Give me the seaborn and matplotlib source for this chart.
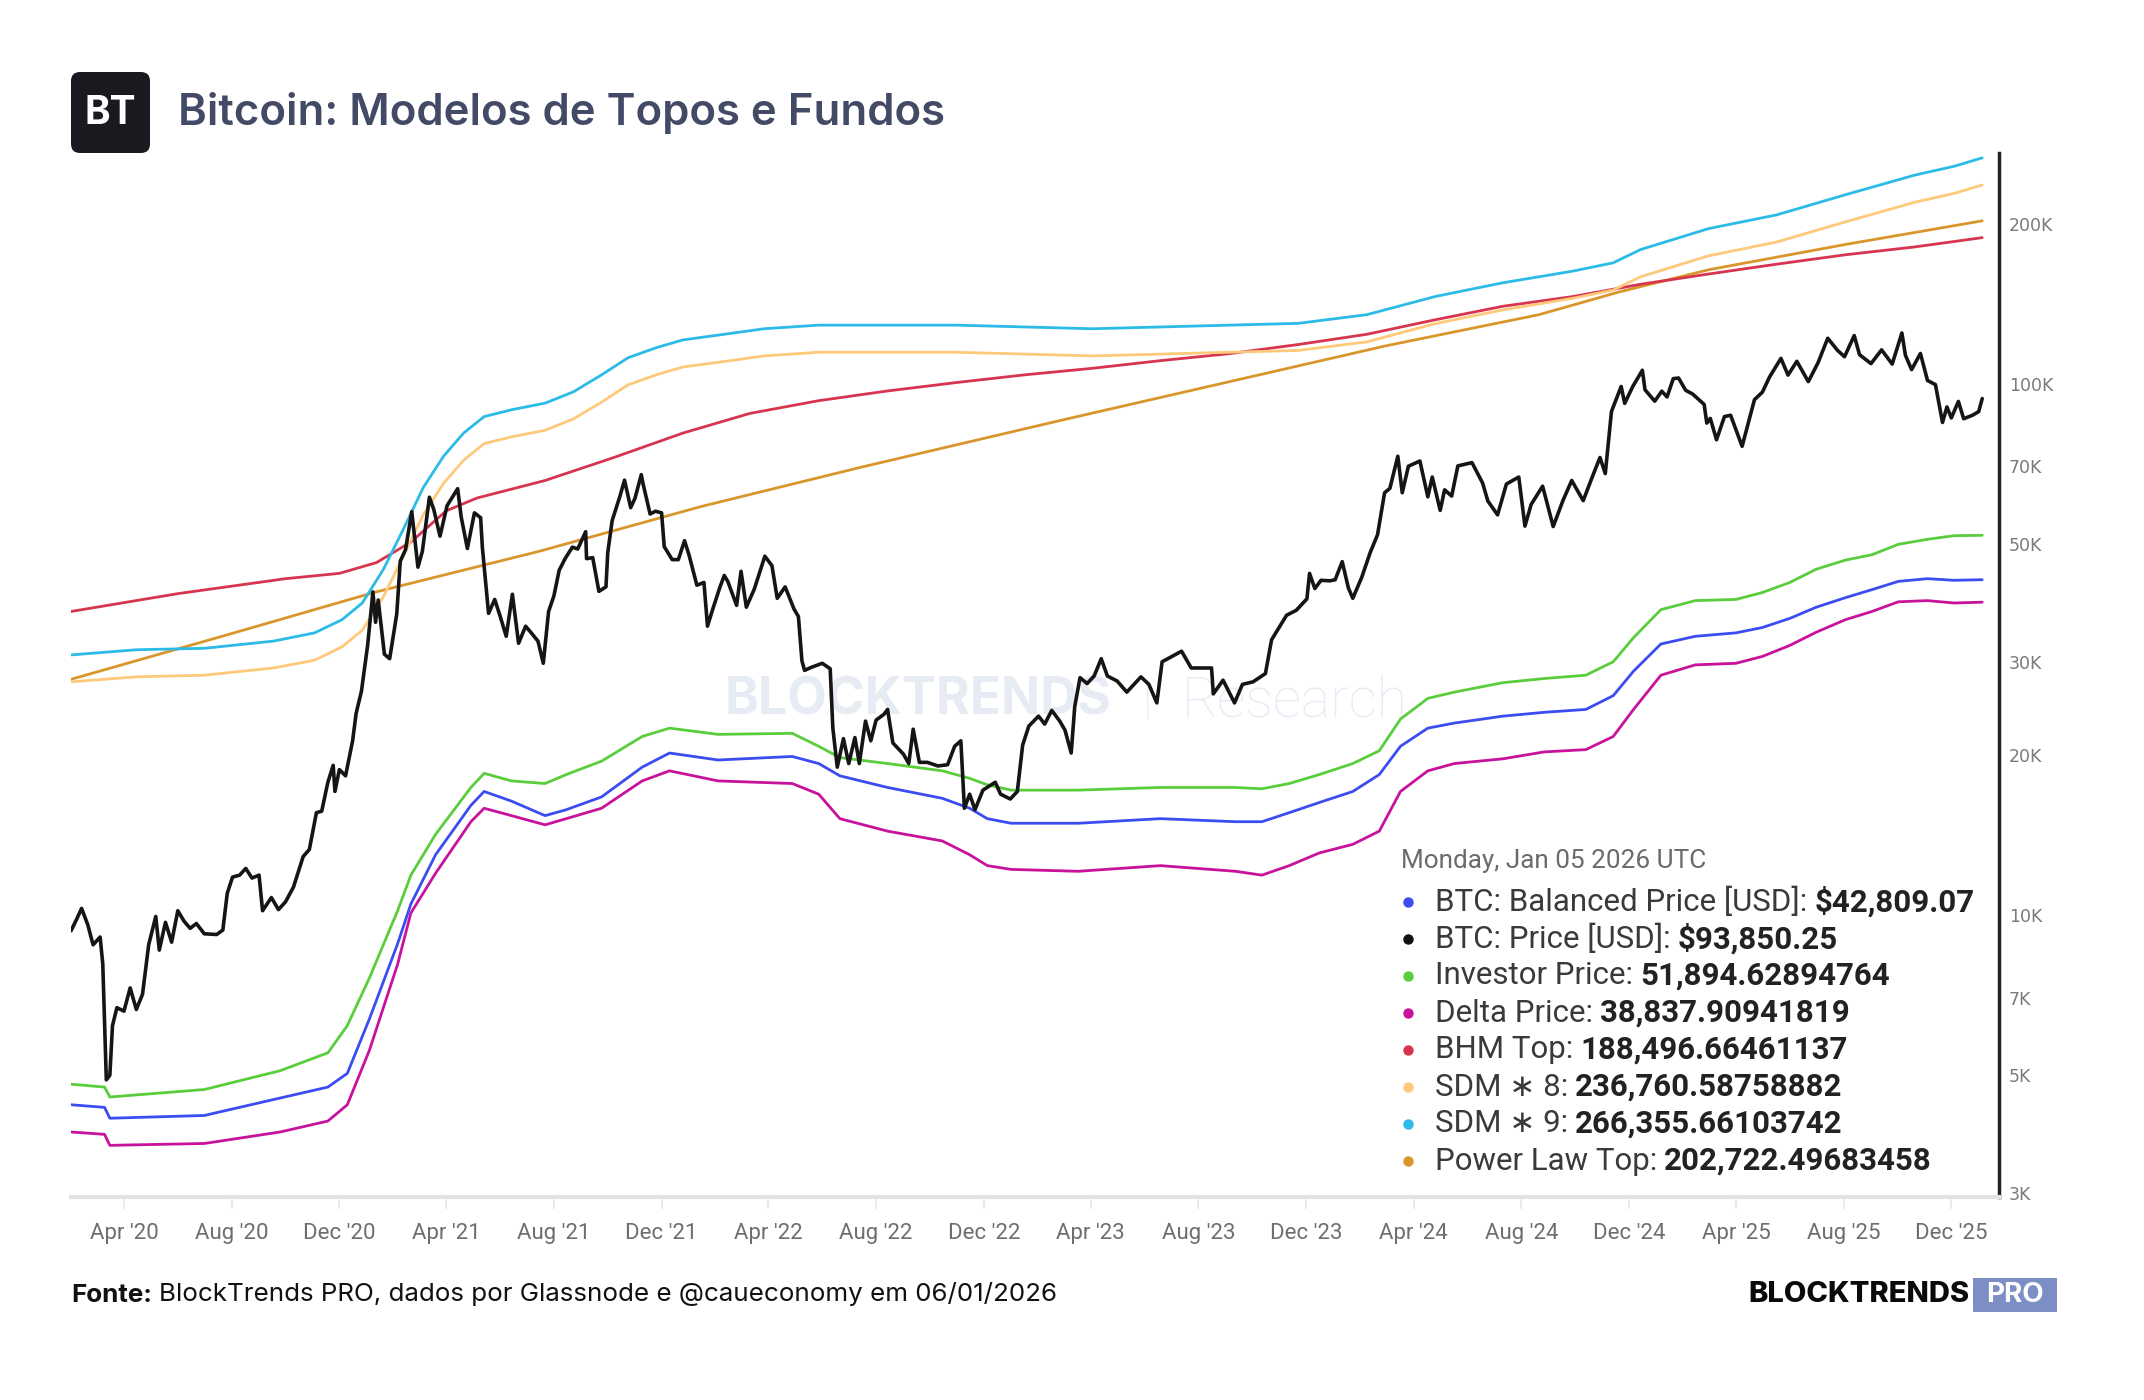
import matplotlib
matplotlib.use("Agg")
import matplotlib.pyplot as plt
from matplotlib.lines import Line2D
from matplotlib.patches import FancyBboxPatch
from matplotlib.ticker import NullLocator
import pandas as pd
import seaborn as sns

W, H = 2144, 1400

# BTC daily price, sampled by eye from the reference
price_points = [
    ("2020-02-01", 9350), ("2020-02-07", 9800), ("2020-02-13", 10300), ("2020-02-20", 9600),
    ("2020-02-26", 8800), ("2020-03-05", 9100), ("2020-03-08", 8100), ("2020-03-12", 4900),
    ("2020-03-16", 5000), ("2020-03-19", 6200), ("2020-03-24", 6700), ("2020-04-01", 6600),
    ("2020-04-08", 7300), ("2020-04-15", 6650), ("2020-04-22", 7100), ("2020-04-29", 8800),
    ("2020-05-07", 9950), ("2020-05-11", 8600), ("2020-05-18", 9700), ("2020-05-25", 8900),
    ("2020-06-01", 10200), ("2020-06-08", 9750), ("2020-06-15", 9450), ("2020-06-22", 9650),
    ("2020-07-01", 9230), ("2020-07-15", 9200), ("2020-07-22", 9380), ("2020-07-27", 11000),
    ("2020-08-02", 11800), ("2020-08-10", 11900), ("2020-08-17", 12250), ("2020-08-24", 11750),
    ("2020-09-01", 11900), ("2020-09-05", 10200), ("2020-09-15", 10800), ("2020-09-23", 10250),
    ("2020-10-01", 10600), ("2020-10-10", 11300), ("2020-10-21", 12900), ("2020-10-28", 13300),
    ("2020-11-05", 15600), ("2020-11-11", 15700), ("2020-11-18", 17800), ("2020-11-24", 19150),
    ("2020-11-26", 17100), ("2020-12-01", 18800), ("2020-12-08", 18300), ("2020-12-16", 21300),
    ("2020-12-20", 24000), ("2020-12-26", 26400),
    ("2021-01-02", 32200), ("2021-01-08", 40600), ("2021-01-11", 35600), ("2021-01-14", 39200),
    ("2021-01-21", 31000), ("2021-01-27", 30400), ("2021-02-04", 36900), ("2021-02-08", 46400),
    ("2021-02-14", 48800), ("2021-02-21", 57500), ("2021-02-28", 45200), ("2021-03-05", 48400),
    ("2021-03-13", 61200), ("2021-03-18", 58000), ("2021-03-25", 51700), ("2021-04-02", 59000),
    ("2021-04-14", 63500), ("2021-04-18", 56200), ("2021-04-25", 49000), ("2021-05-03", 57200),
    ("2021-05-10", 56000), ("2021-05-12", 49200), ("2021-05-19", 37000), ("2021-05-26", 39300),
    ("2021-06-01", 36600), ("2021-06-08", 33500), ("2021-06-15", 40200), ("2021-06-22", 32500),
    ("2021-06-30", 35000), ("2021-07-07", 33900), ("2021-07-14", 32800), ("2021-07-20", 29800),
    ("2021-07-26", 37300), ("2021-08-01", 39900), ("2021-08-07", 44600), ("2021-08-14", 47000),
    ("2021-08-22", 49300), ("2021-08-28", 48900), ("2021-09-06", 52700), ("2021-09-07", 46900),
    ("2021-09-14", 47100), ("2021-09-21", 40700), ("2021-09-29", 41500), ("2021-10-01", 48100),
    ("2021-10-06", 55300), ("2021-10-15", 61600), ("2021-10-20", 65900), ("2021-10-27", 58500),
    ("2021-11-01", 61000), ("2021-11-08", 67500), ("2021-11-10", 64900), ("2021-11-18", 56900),
    ("2021-11-24", 57600), ("2021-12-01", 57200), ("2021-12-04", 49400), ("2021-12-13", 46700),
    ("2021-12-20", 46700), ("2021-12-27", 50700),
    ("2022-01-01", 47700), ("2022-01-10", 41800), ("2022-01-18", 42300), ("2022-01-22", 35000),
    ("2022-01-28", 37700), ("2022-02-05", 41400), ("2022-02-10", 43600), ("2022-02-14", 42500),
    ("2022-02-24", 38300), ("2022-03-01", 44400), ("2022-03-07", 38000), ("2022-03-16", 41100),
    ("2022-03-28", 47400), ("2022-04-05", 45500), ("2022-04-11", 39500), ("2022-04-20", 41500),
    ("2022-04-30", 37700), ("2022-05-05", 36500), ("2022-05-09", 30100), ("2022-05-12", 28900),
    ("2022-05-20", 29300), ("2022-06-01", 29800), ("2022-06-10", 29100), ("2022-06-13", 22500),
    ("2022-06-18", 19000), ("2022-06-25", 21500), ("2022-07-01", 19300), ("2022-07-08", 21600),
    ("2022-07-13", 19300), ("2022-07-20", 23200), ("2022-07-26", 21300), ("2022-08-01", 23300),
    ("2022-08-10", 23900), ("2022-08-14", 24400), ("2022-08-20", 21100), ("2022-09-01", 20100),
    ("2022-09-07", 19300), ("2022-09-12", 22400), ("2022-09-19", 19400), ("2022-09-28", 19400),
    ("2022-10-10", 19100), ("2022-10-21", 19200), ("2022-10-29", 20800), ("2022-11-05", 21300),
    ("2022-11-09", 15900), ("2022-11-15", 16900), ("2022-11-21", 15800), ("2022-11-30", 17200),
    ("2022-12-14", 17800), ("2022-12-20", 16900), ("2022-12-31", 16550),
    ("2023-01-08", 17100), ("2023-01-14", 20900), ("2023-01-21", 22700), ("2023-02-01", 23700),
    ("2023-02-08", 22900), ("2023-02-16", 24300), ("2023-02-25", 23200), ("2023-03-03", 22300),
    ("2023-03-10", 20200), ("2023-03-14", 24700), ("2023-03-20", 28000), ("2023-03-28", 27300),
    ("2023-04-05", 28200), ("2023-04-13", 30400), ("2023-04-20", 28200), ("2023-05-01", 27600),
    ("2023-05-12", 26300), ("2023-05-28", 28100), ("2023-06-06", 27200), ("2023-06-15", 25100),
    ("2023-06-21", 30000), ("2023-07-13", 31400), ("2023-07-24", 29200), ("2023-08-16", 29200),
    ("2023-08-18", 26100), ("2023-08-29", 27700), ("2023-09-11", 25100), ("2023-09-20", 27200),
    ("2023-10-02", 27500), ("2023-10-16", 28500), ("2023-10-23", 33000), ("2023-11-09", 36700),
    ("2023-11-20", 37500), ("2023-12-02", 39400), ("2023-12-05", 44000), ("2023-12-11", 41200),
    ("2023-12-18", 42700), ("2023-12-28", 42600),
    ("2024-01-03", 42800), ("2024-01-11", 46300), ("2024-01-18", 41300), ("2024-01-23", 39500),
    ("2024-02-02", 43200), ("2024-02-12", 48300), ("2024-02-20", 52000), ("2024-02-28", 62400),
    ("2024-03-05", 63600), ("2024-03-14", 73100), ("2024-03-19", 62400), ("2024-03-26", 70000),
    ("2024-04-08", 71600), ("2024-04-17", 61300), ("2024-04-22", 66800), ("2024-05-01", 57800),
    ("2024-05-06", 63200), ("2024-05-14", 61500), ("2024-05-21", 70100), ("2024-06-06", 71100),
    ("2024-06-18", 65100), ("2024-06-24", 60200), ("2024-07-05", 56700), ("2024-07-15", 64800),
    ("2024-07-29", 66800), ("2024-08-05", 54000), ("2024-08-12", 59300), ("2024-08-25", 64200),
    ("2024-09-06", 53900), ("2024-09-17", 60300), ("2024-09-27", 65800), ("2024-10-10", 60300),
    ("2024-10-21", 67300), ("2024-10-29", 72700), ("2024-11-04", 67800), ("2024-11-11", 88700),
    ("2024-11-13", 90500), ("2024-11-22", 98900), ("2024-11-26", 91900), ("2024-12-05", 98800),
    ("2024-12-16", 106100), ("2024-12-19", 97500), ("2024-12-30", 92800),
    ("2025-01-07", 96900), ("2025-01-13", 94500), ("2025-01-20", 102300), ("2025-01-26", 102600),
    ("2025-02-03", 97300), ("2025-02-11", 95700), ("2025-02-24", 91500), ("2025-02-27", 84400),
    ("2025-03-03", 86100), ("2025-03-10", 78500), ("2025-03-19", 86800), ("2025-03-26", 87300),
    ("2025-04-08", 76300), ("2025-04-22", 93400), ("2025-05-01", 96500), ("2025-05-09", 103000),
    ("2025-05-22", 111700), ("2025-05-30", 103900), ("2025-06-09", 110300), ("2025-06-22", 101000),
    ("2025-07-03", 109600), ("2025-07-14", 121900), ("2025-07-25", 115700), ("2025-08-02", 112500),
    ("2025-08-13", 123300), ("2025-08-19", 113500), ("2025-09-01", 109200), ("2025-09-13", 115900),
    ("2025-09-25", 109000), ("2025-10-06", 124700), ("2025-10-10", 113200), ("2025-10-17", 106400),
    ("2025-10-27", 114100), ("2025-11-04", 101500), ("2025-11-13", 99700), ("2025-11-21", 84600),
    ("2025-11-26", 90500), ("2025-12-01", 86300), ("2025-12-09", 92700), ("2025-12-15", 86000),
    ("2025-12-25", 87300), ("2026-01-01", 88700), ("2026-01-05", 93850),
]
price_dates = [d for d, _ in price_points]
price_usd = [v for _, v in price_points]

# lower bands share one set of sample dates
band_dates = [
    "2020-02-01", "2020-03-10", "2020-03-16", "2020-07-01", "2020-09-25", "2020-11-18", "2020-12-10",
    "2021-01-04", "2021-02-05", "2021-02-20", "2021-03-20", "2021-04-29", "2021-05-14", "2021-06-14",
    "2021-07-22", "2021-08-15", "2021-09-24", "2021-11-09", "2021-12-10",
    "2022-02-03", "2022-04-28", "2022-05-28", "2022-06-21", "2022-08-14", "2022-10-15", "2022-11-15", "2022-12-05",
    "2023-01-01", "2023-03-18", "2023-06-19", "2023-09-12", "2023-10-12", "2023-11-12", "2023-12-16",
    "2024-01-23", "2024-02-22", "2024-03-17", "2024-04-17", "2024-05-17", "2024-07-11", "2024-08-27",
    "2024-10-13", "2024-11-13", "2024-12-06",
    "2025-01-06", "2025-02-14", "2025-04-01", "2025-05-01", "2025-06-01", "2025-07-01", "2025-08-03",
    "2025-09-02", "2025-10-02", "2025-11-04", "2025-12-04",
    "2026-01-05",
]
investor_price = [
    4810, 4750, 4550, 4700, 5100, 5510, 6200,
    7620, 10200, 11900, 14200, 17400, 18500, 17900,
    17700, 18400, 19500, 21700, 22500,
    21900, 22000, 20800, 19800, 19300, 18700, 18100, 17600,
    17200, 17200, 17400, 17400, 17300, 17700, 18400,
    19300, 20400, 23400, 25600, 26300, 27400, 27900, 28300, 30000, 33300,
    37600, 39100, 39300, 40500, 42300, 44800, 46600, 47700, 49900, 51000, 51800,
    51895,
]
balanced_price = [
    4400, 4350, 4150, 4200, 4530, 4750, 5040,
    6380, 8840, 10500, 13000, 16100, 17100, 16400,
    15400, 15800, 16700, 19000, 20200,
    19600, 19900, 19300, 18300, 17400, 16600, 15900, 15200,
    14900, 14900, 15200, 15000, 15000, 15600, 16300,
    17100, 18400, 20800, 22500, 23000, 23700, 24100, 24400, 25900, 28800,
    32400, 33500, 34000, 34800, 36200, 38000, 39600, 41000, 42500, 43000, 42700,
    42809,
]
delta_price = [
    3910, 3870, 3690, 3720, 3910, 4100, 4400,
    5570, 8090, 10100, 12000, 15000, 15900, 15400,
    14800, 15200, 15900, 17900, 18700,
    17900, 17700, 16900, 15200, 14400, 13800, 13000, 12400,
    12200, 12100, 12400, 12100, 11900, 12400, 13100,
    13600, 14400, 17100, 18700, 19300, 19700, 20300, 20500, 21700, 24400,
    28300, 29600, 29800, 30700, 32200, 34100, 36000, 37300, 38900, 39100, 38700,
    38838,
]

sdm_dates = [
    "2020-02-01", "2020-04-15", "2020-07-01", "2020-09-17", "2020-11-03", "2020-12-04", "2020-12-27",
    "2021-01-20", "2021-02-12", "2021-03-06", "2021-03-29", "2021-04-21", "2021-05-14", "2021-06-14",
    "2021-07-22", "2021-08-23", "2021-09-24", "2021-10-24", "2021-11-25", "2021-12-25",
    "2022-02-10", "2022-03-27", "2022-05-28", "2022-10-31", "2023-04-03", "2023-09-05", "2023-11-22",
    "2024-02-08", "2024-04-25", "2024-07-11", "2024-09-28", "2024-11-13", "2024-12-14",
    "2025-03-01", "2025-05-17", "2025-08-03", "2025-10-20", "2025-12-05", "2026-01-05",
]
sdm9 = [
    30900, 31600, 31800, 32800, 34000, 36000, 38700,
    44800, 53500, 63800, 73100, 80900, 86800, 89400,
    92000, 96600, 104000, 112000, 117000, 121000,
    124000, 127000, 129000, 129000, 127000, 129000, 130000,
    135000, 146000, 155000, 163000, 169000, 179000,
    196000, 208000, 227000, 247000, 257000, 266356,
]
sdm8 = [
    27500, 28100, 28300, 29200, 30200, 32000, 34400,
    39800, 47600, 56700, 65000, 71900, 77200, 79500,
    81800, 85900, 92400, 99600, 104000, 107600,
    110200, 112900, 114700, 114700, 112900, 114700, 115600,
    120000, 129800, 137800, 144900, 150200, 159100,
    174200, 184900, 201800, 219600, 228500, 236761,
]

bhm_dates = [
    "2020-02-01", "2020-06-01", "2020-10-01", "2020-12-01", "2021-01-12", "2021-02-20",
    "2021-04-01", "2021-05-06", "2021-07-22", "2021-10-08", "2021-12-25", "2022-03-11",
    "2022-05-28", "2022-08-14", "2022-10-31", "2023-01-16", "2023-04-03", "2023-06-19",
    "2023-09-05", "2023-11-22", "2024-02-08", "2024-04-25", "2024-07-11", "2024-09-28",
    "2024-12-14", "2025-03-01", "2025-05-17", "2025-08-03", "2025-10-20", "2026-01-05",
]
bhm_top = [
    37300, 40300, 43000, 44000, 46100, 50400,
    57700, 61000, 65800, 72700, 80800, 88000,
    93000, 97000, 100600, 104000, 107000, 110600,
    114000, 118600, 124000, 132000, 140000, 146000,
    154000, 161000, 168000, 175000, 181000, 188497,
]

power_dates = [
    "2020-02-01", "2020-08-01", "2021-01-09", "2021-07-15", "2022-01-15", "2022-07-15",
    "2023-02-25", "2023-09-01", "2024-03-01", "2024-08-21", "2024-11-20", "2025-03-01",
    "2025-08-03", "2026-01-05",
]
power_law_top = [
    27800, 33900, 40500, 48400, 58800, 69700,
    85300, 100600, 118000, 135000, 149000, 164000,
    183000, 202722,
]

legend_names = [
    "BTC: Balanced Price [USD]:", "BTC: Price [USD]:", "Investor Price:", "Delta Price:",
    "BHM Top:", "SDM \u2217 8:", "SDM \u2217 9:", "Power Law Top:",
]
legend_values = [
    "$42,809.07", "$93,850.25", "51,894.62894764", "38,837.90941819",
    "188,496.66461137", "236,760.58758882", "266,355.66103742", "202,722.49683458",
]
legend_colors = ["#3b4cf0", "#111111", "#5acd3c", "#c8129c", "#d7354f", "#fec97a", "#2bbbe6", "#d9962c"]

y_ticks = [3000, 5000, 7000, 10000, 20000, 30000, 50000, 70000, 100000, 200000]
y_labels = ["3K", "5K", "7K", "10K", "20K", "30K", "50K", "70K", "100K", "200K"]

sns.set_theme(style="white")
plt.rcParams["font.family"] = ["Roboto", "DejaVu Sans"]

fig = plt.figure(figsize=(W / 100, H / 100), dpi=100)
fig.patch.set_facecolor("white")
ax = fig.add_axes([71 / W, 1 - 1197 / H, (1999 - 71) / W, (1197 - 153) / H])

# series drawn back to front, price on top
series = [
    (power_dates, power_law_top, legend_colors[7], 2.0),
    (bhm_dates, bhm_top, legend_colors[4], 2.0),
    (sdm_dates, sdm8, legend_colors[5], 2.0),
    (sdm_dates, sdm9, legend_colors[6], 2.0),
    (band_dates, delta_price, legend_colors[3], 2.0),
    (band_dates, balanced_price, legend_colors[0], 2.0),
    (band_dates, investor_price, legend_colors[2], 2.0),
    (price_dates, price_usd, "#151515", 2.6),
]
for dates, vals, col, lw in series:
    df = pd.DataFrame({"date": pd.to_datetime(dates), "value": vals})
    sns.lineplot(data=df, x="date", y="value", ax=ax, color=col, linewidth=lw,
                 estimator=None, sort=False, legend=False, zorder=2)

ax.set_yscale("log")
ax.set_ylim(2950, 272000)
ax.set_xlim(pd.Timestamp("2020-02-01"), pd.Timestamp("2026-01-24"))
ax.set_yticks(y_ticks)
ax.set_yticklabels(y_labels)
ax.yaxis.set_minor_locator(NullLocator())
ax.yaxis.tick_right()

x_ticks = pd.date_range("2020-04-01", "2025-12-01", freq="4MS")
ax.set_xticks(x_ticks)
ax.set_xticklabels([d.strftime("%b '%y") for d in x_ticks])
ax.xaxis.set_minor_locator(NullLocator())
ax.set_xlabel("")
ax.set_ylabel("")

for side in ["left", "top"]:
    ax.spines[side].set_visible(False)
ax.spines["right"].set_color("#222222")
ax.spines["right"].set_linewidth(2.5)
ax.spines["bottom"].set_color("#e2e2e2")
ax.spines["bottom"].set_linewidth(3)

ax.tick_params(axis="x", length=8.5, width=1.2, color="#e6e6e6", labelcolor="#6e6e6e",
               labelsize=16, pad=10, bottom=True)
ax.tick_params(axis="y", length=0, pad=7, labelcolor="#7a7a7a", labelsize=12.5, right=True, left=False)
for lab in ax.get_yticklabels():
    lab.set_family("DejaVu Sans")

# watermark
ax.text(725 / W, 1 - 701 / H, "BLOCKTRENDS", transform=fig.transFigure, fontsize=37,
        fontweight="bold", color="#e6ebf4", va="center", ha="left", family="Inter", zorder=0.5)
ax.text(1148 / W, 1 - 701 / H, "|", transform=fig.transFigure, fontsize=34,
        color="#e6ebf4", va="center", ha="center", fontweight="light", zorder=0.5)
ax.text(1182 / W, 1 - 701 / H, "Research", transform=fig.transFigure, fontsize=40,
        color="#e6ebf4", va="center", ha="left", fontweight="light", zorder=0.5)

# logo box and title
fig.add_artist(FancyBboxPatch((0.71, (H - 153) / 100), 0.79, 0.81,
                              boxstyle="round,pad=0,rounding_size=0.09",
                              transform=fig.dpi_scale_trans, facecolor="#181a20", edgecolor="none"))
fig.text(110.5 / W, 1 - 113 / H, "BT", color="white", fontsize=28, fontweight="bold",
         ha="center", va="center", family="Inter")
fig.text(178 / W, 1 - 113 / H, "Bitcoin: Modelos de Topos e Fundos", color="#434a66",
         fontsize=31.5, fontweight="semibold", ha="left", va="center", family="Inter")

# tooltip style legend
fig.text(1401 / W, 1 - 861 / H, "Monday, Jan 05 2026 UTC", color="#6b6b6b", fontsize=18.8,
         ha="left", va="center")
for i, (name, val, col) in enumerate(zip(legend_names, legend_values, legend_colors)):
    yy = 1 - (902 + 37 * i) / H
    fig.add_artist(Line2D([1408 / W], [yy], marker="o", markersize=6.5, color=col,
                          linestyle="none", transform=fig.transFigure))
    t = fig.text(1435 / W, yy, name, color="#3a3a3a", fontsize=22.5, ha="left", va="center")
    ax.annotate(val, xy=(1, 0), xycoords=t, xytext=(5, 0), textcoords="offset points",
                color="#222222", fontsize=22.5, fontweight="bold", ha="left", va="bottom")

# footer
ft = fig.text(71 / W, 1 - 1295 / H, "Fonte:", color="#111111", fontsize=18.7, fontweight="bold",
              ha="left", va="center", family="Inter")
ax.annotate("BlockTrends PRO, dados por Glassnode e @caueconomy em 06/01/2026", xy=(1, 0),
            xycoords=ft, xytext=(5, 0), textcoords="offset points", color="#111111",
            fontsize=18.7, ha="left", va="bottom", family="Inter")

fig.text(1969 / W, 1 - 1295 / H, "BLOCKTRENDS", color="#0a0a0a", fontsize=21, fontweight="heavy",
         ha="right", va="center", family="Inter")
fig.add_artist(FancyBboxPatch((19.73, (H - 1312) / 100), 0.84, 0.34,
                              boxstyle="square,pad=0", transform=fig.dpi_scale_trans,
                              facecolor="#7c8ec4", edgecolor="none"))
fig.text(2015 / W, 1 - 1295 / H, "PRO", color="white", fontsize=20, fontweight="bold",
         ha="center", va="center", family="Inter")

fig.savefig("out.png", dpi=100, facecolor="white")
